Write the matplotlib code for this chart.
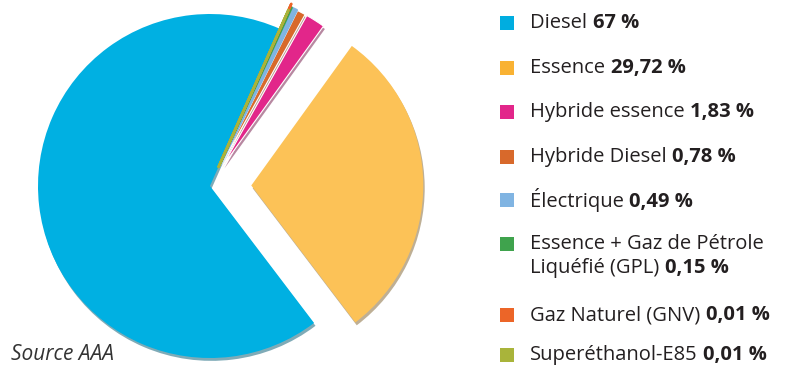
import matplotlib.pyplot as plt
from matplotlib.patches import Rectangle

plt.rcParams['font.family'] = ['Open Sans', 'DejaVu Sans']

labels = ["Diesel", "Essence", "Hybride essence", "Hybride Diesel", "Électrique",
          "Essence + Gaz de Pétrole\nLiquéfié (GPL)", "Gaz Naturel (GNV)",
          "Superéthanol-E85"]
values = [67, 29.72, 1.83, 0.78, 0.49, 0.15, 0.01, 0.01]
value_txt = ["67 %", "29,72 %", "1,83 %", "0,78 %", "0,49 %", "0,15 %",
             "0,01 %", "0,01 %"]
colors = ["#00b0e2", "#fcc257", "#e2268a", "#d8692b", "#80b4e2",
          "#3fa34d", "#ec6528", "#a9b43a"]
legend_colors = ["#00ade0", "#f9b233", "#e2268a", "#d8692b", "#80b4e2",
                 "#3fa34d", "#ec6528", "#a9b43a"]

W, H = 793, 370
fig = plt.figure(figsize=(W / 100, H / 100), dpi=100)

# pie axes : centre ~ (210,186) px, radius ~172 px
cx, cy, r, lim = 210, 186, 172, 1.35
half = r * lim
ax = fig.add_axes([(cx - half) / W, (H - cy - half) / H, 2 * half / W, 2 * half / H])
explode = [0, 0.24, 0.14, 0.14, 0.14, 0.14, 0.16, 0.12]
wedges, _ = ax.pie(values, colors=colors, startangle=66, counterclock=True,
                   explode=explode, radius=1,
                   shadow={'ox': 0.006, 'oy': -0.012, 'shade': 0.5},
                   wedgeprops=dict(linewidth=0))
for w, v in zip(wedges, values):
    if v < 0.6:
        # tiny slices: draw as thin rays so they stay visible
        w.set_edgecolor(w.get_facecolor())
        w.set_linewidth(1.8)
        w.set_joinstyle('round')
    elif v < 5:
        w.set_edgecolor('white')
        w.set_linewidth(0.8)
ax.set_xlim(-lim, lim)
ax.set_ylim(-lim, lim)
ax.set_aspect('equal')
ax.axis('off')

# legend + source, in pixel coordinates
lay = fig.add_axes([0, 0, 1, 1])
lay.set_xlim(0, W)
lay.set_ylim(H, 0)
lay.axis('off')

row_y = [23, 68, 112, 157, 200, 244, 315, 355]
fs = 14.5
for lab, vt, col, y in zip(labels, value_txt, legend_colors, row_y):
    lay.add_patch(Rectangle((500, y - 7), 14, 14, color=col, lw=0))
    lines = lab.split("\n")
    t = None
    for k, line in enumerate(lines):
        t = lay.text(530, y + 24 * k, line, fontsize=fs, color="#231f20",
                     va='center', ha='left')
    lay.annotate(vt, xy=(1, 0), xycoords=t, xytext=(4, 0),
                 textcoords='offset points', fontsize=fs, fontweight='bold',
                 color="#231f20", va='bottom', ha='left')

lay.text(11, 354, "Source AAA", fontsize=15, style='italic', color="#333333",
         va='center', ha='left')

fig.savefig("out.png", dpi=100)
